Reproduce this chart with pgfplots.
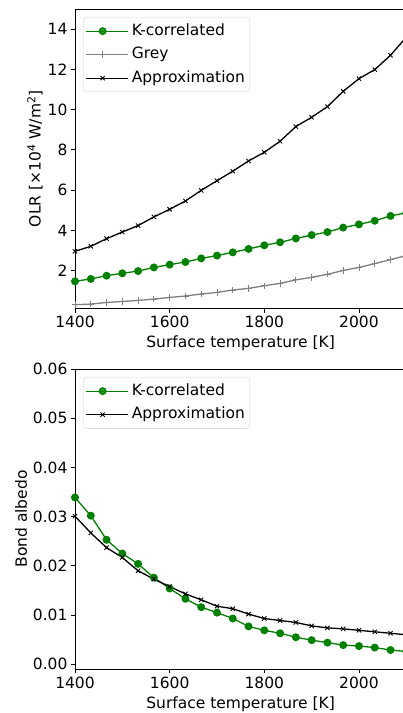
\documentclass[border=0pt]{standalone}
\usepackage{fontspec}
\setmainfont{DejaVu Sans}
\usepackage{pgfplots}
\usepackage{pgfplotstable}
\pgfplotsset{compat=1.18}
\definecolor{mplgreen}{HTML}{008000}
\definecolor{mplgrey}{HTML}{808080}

\pgfplotstableread{
T K G A
1400.00 1.47 0.31 2.96
1433.33 1.59 0.34 3.21
1466.67 1.75 0.42 3.59
1500.00 1.87 0.47 3.92
1533.33 1.98 0.52 4.24
1566.67 2.16 0.59 4.67
1600.00 2.30 0.67 5.05
1633.33 2.43 0.74 5.46
1666.67 2.61 0.84 5.99
1700.00 2.75 0.92 6.47
1733.33 2.91 1.04 6.94
1766.67 3.08 1.12 7.45
1800.00 3.26 1.25 7.88
1833.33 3.41 1.37 8.43
1866.67 3.60 1.54 9.16
1900.00 3.77 1.67 9.62
1933.33 3.92 1.82 10.15
1966.67 4.14 2.01 10.91
2000.00 4.30 2.16 11.54
2033.33 4.48 2.35 11.99
2066.67 4.72 2.55 12.70
2100.00 4.87 2.75 13.60
}\olr

\pgfplotstableread{
T K A
1400.00 0.0339 0.0301
1433.33 0.0302 0.0267
1466.67 0.0253 0.0237
1500.00 0.0225 0.0217
1533.33 0.0204 0.0190
1566.67 0.0176 0.0173
1600.00 0.0154 0.0158
1633.33 0.0133 0.0143
1666.67 0.0116 0.0131
1700.00 0.0105 0.0118
1733.33 0.0093 0.0113
1766.67 0.0077 0.0102
1800.00 0.0069 0.0093
1833.33 0.0063 0.0089
1866.67 0.0055 0.0085
1900.00 0.0049 0.0078
1933.33 0.0044 0.0074
1966.67 0.0039 0.0072
2000.00 0.0037 0.0069
2033.33 0.0034 0.0066
2066.67 0.0029 0.0063
2100.00 0.0026 0.0060
}\albedo

\pgfplotsset{
  myaxis/.style={
    scale only axis,
    width=331.3pt,
    xmin=1400, xmax=2100,
    xtick={1400,1600,1800,2000},
    tick align=outside,
    major tick length=4pt,
    tick style={black, line width=0.9pt},
    axis line style={line width=0.9pt},
    xtick pos=bottom, ytick pos=left,
    /pgf/number format/assume math mode=true,
    /pgf/number format/1000 sep={},
    tick label style={font=\fontsize{15.5}{18}\selectfont},
    label style={font=\fontsize{15.5}{18}\selectfont},
    xlabel={Surface temperature [K]},
    xlabel style={at={(axis description cs:0.5,-0.131)}, anchor=base},
    legend cell align=left,
    legend style={
      at={(axis description cs:0,1)}, anchor=north west,
      xshift=8.3pt, yshift=-8.3pt,
      draw=black!18, rounded corners=3pt,
      fill=white, fill opacity=0.8, text opacity=1, draw opacity=1,
      font=\fontsize{15.5}{18}\selectfont,
      inner xsep=2pt, inner ysep=1.9pt,
      row sep=0pt,
      nodes={inner xsep=3pt, inner ysep=3.75pt, text height=12pt, text depth=4pt},
    },
    legend image code/.code={
      \draw[line width=1.3pt, mark repeat=2, mark phase=2] plot coordinates {(0pt,0pt) (16.5pt,0pt) (33pt,0pt)};
      \path (0pt,0pt) -- (42pt,0pt);
    },
  },
  kstyle/.style={mplgreen, line width=1.3pt, mark=*, mark size=3.3pt, mark options={fill=mplgreen, draw=mplgreen}},
  gstyle/.style={mplgrey, line width=1.3pt, mark=+, mark size=3.2pt, mark options={line width=0.9pt}},
  astyle/.style={black, line width=1.3pt, mark=x, mark size=3pt, mark options={line width=0.9pt}},
}

\begin{document}
\begin{tikzpicture}
\begin{axis}[myaxis,
  at={(75pt,-308.5pt)}, anchor=south west,
  height=299.5pt,
  ymin=0.12, ymax=15,
  ytick={2,4,6,8,10,12,14},
  ylabel={OLR [×10\textsuperscript{4} W/m\textsuperscript{2}]},
  ylabel style={at={(axis description cs:-0.121,0.5)}, anchor=center},
]
\addplot[kstyle] table[x=T, y=K] {\olr};
\addlegendentry{K-correlated}
\addplot[gstyle] table[x=T, y=G] {\olr};
\addlegendentry{Grey}
\addplot[astyle] table[x=T, y=A] {\olr};
\addlegendentry{Approximation}
\end{axis}

\begin{axis}[myaxis,
  at={(75pt,-669pt)}, anchor=south west,
  height=300pt,
  ymin=-0.00096, ymax=0.06,
  ytick={0,0.01,0.02,0.03,0.04,0.05,0.06},
  yticklabel style={/pgf/number format/.cd, fixed, fixed zerofill, precision=2},
  scaled y ticks=false,
  ylabel={Bond albedo},
  ylabel style={at={(axis description cs:-0.163,0.5)}, anchor=center},
]
\addplot[kstyle] table[x=T, y=K] {\albedo};
\addlegendentry{K-correlated}
\addplot[astyle] table[x=T, y=A] {\albedo};
\addlegendentry{Approximation}
\end{axis}
\pgfresetboundingbox
\path[use as bounding box] (0pt,0pt) rectangle (403pt,-713pt);
\end{tikzpicture}
\end{document}
